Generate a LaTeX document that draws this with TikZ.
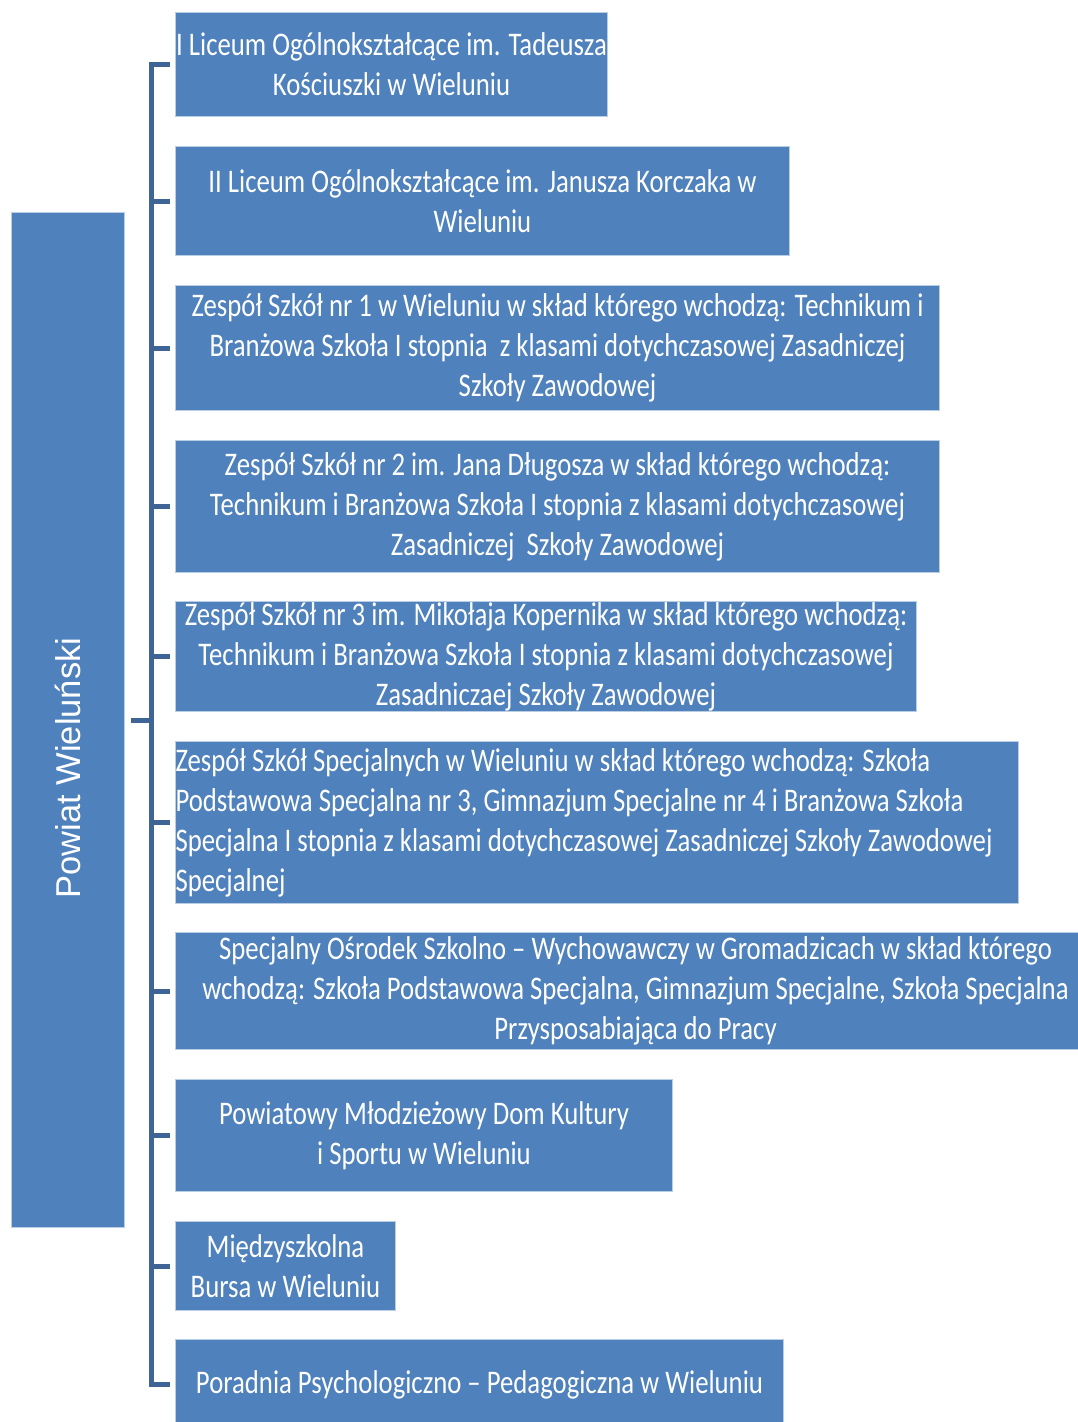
\documentclass[tikz,border=0pt]{standalone}
\usepackage{fontspec}
\newfontfamily\unitfont{Carlito}[FakeStretch=0.81]
\newfontfamily\rootfont{Liberation Sans}
\definecolor{boxblue}{HTML}{4F81BD}
\definecolor{boxedge}{HTML}{B9CDE5}
\definecolor{linkblue}{HTML}{3F6496}
\tikzset{
  unit/.style={draw=boxedge, line width=1pt, fill=boxblue, text=white, anchor=north west,
    inner sep=0pt, align=center, font=\unitfont\fontsize{33}{40}\selectfont},
  link/.style={draw=linkblue, line width=5pt}
}

\begin{document}
\begin{tikzpicture}[x=1pt,y=-1pt]
\useasboundingbox (0,0) rectangle (1078,1422);

\node[draw=boxedge, line width=1pt, fill=boxblue, anchor=north west, minimum width=113pt, minimum height=1015pt] (pow) at (11,212) {};
\node[rotate=90, text=white, font=\rootfont\fontsize{34.5}{40}\selectfont] (powlabel) at (68,768) {Powiat Wieluński};

\node[unit, minimum width=432pt, minimum height=104pt] (u1) at (175,12) {I Liceum Ogólnokształcące im. Tadeusza\\Kościuszki w Wieluniu};
\node[unit, minimum width=614pt, minimum height=109pt] (u2) at (175,146) {II Liceum Ogólnokształcące im. Janusza Korczaka w\\Wieluniu};
\node[unit, minimum width=764pt, minimum height=125pt] (u3) at (175,285) {Zespół Szkół nr 1 w Wieluniu w skład którego wchodzą: Technikum i\\Branżowa Szkoła I stopnia \ z klasami dotychczasowej Zasadniczej\\Szkoły Zawodowej};
\node[unit, minimum width=764pt, minimum height=132pt] (u4) at (175,440) {Zespół Szkół nr 2 im. Jana Długosza w skład którego wchodzą:\\Technikum i Branżowa Szkoła I stopnia z klasami dotychczasowej\\Zasadniczej \ Szkoły Zawodowej};
\node[unit, minimum width=741pt, minimum height=110pt] (u5) at (175,601) {Zespół Szkół nr 3 im. Mikołaja Kopernika w skład którego wchodzą:\\Technikum i Branżowa Szkoła I stopnia z klasami dotychczasowej\\Zasadniczaej Szkoły Zawodowej};
\node[unit, align=flush left, text width=843pt, minimum height=162pt] (u6) at (175,741) {Zespół Szkół Specjalnych w Wieluniu w skład którego wchodzą: Szkoła\\Podstawowa Specjalna nr 3, Gimnazjum Specjalne nr 4 i Branżowa Szkoła\\Specjalna I stopnia z klasami dotychczasowej Zasadniczej Szkoły Zawodowej\\Specjalnej};
\node[unit, minimum width=920pt, minimum height=117pt] (u7) at (175,932) {Specjalny Ośrodek Szkolno – Wychowawczy w Gromadzicach w skład którego\\wchodzą: Szkoła Podstawowa Specjalna, Gimnazjum Specjalne, Szkoła Specjalna\\Przysposabiająca do Pracy};
\node[unit, minimum width=497pt, minimum height=112pt] (u8) at (175,1079) {Powiatowy Młodzieżowy Dom Kultury\\i Sportu w Wieluniu};
\node[unit, minimum width=220pt, minimum height=89pt] (u9) at (175,1221) {Międzyszkolna\\Bursa w Wieluniu};
\node[unit, minimum width=608pt, minimum height=90pt] (u10) at (175,1339) {Poradnia Psychologiczno – Pedagogiczna w Wieluniu};

\path ([xshift=26pt]pow.east) coordinate (trunk);
\draw[link] ([xshift=6pt]pow.east) -- (trunk);
\draw[link] ([xshift=-5pt]u1.west) -| (trunk) |- ([xshift=-5pt]u10.west);
\foreach \i in {2,...,9}
  \draw[link] (trunk |- u\i.west) -- ([xshift=-5pt]u\i.west);

\end{tikzpicture}
\end{document}
